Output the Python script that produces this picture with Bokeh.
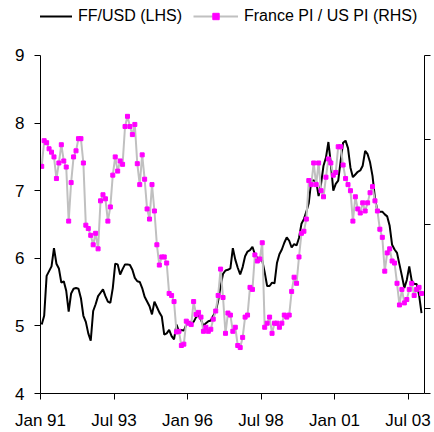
import pandas as pd
from bokeh.plotting import figure
from bokeh.models import Range1d, LinearAxis, FixedTicker, Legend, LegendItem, ColumnDataSource
from bokeh.embed import file_html
from bokeh.resources import INLINE

# ---- data (monthly, Jan 1991 - Dec 2003) ----
start_month = "1991-01"

ff_usd = [
    5.02, 5.15, 5.74, 5.81, 5.88, 6.15, 5.92, 5.85, 5.64, 5.66,
    5.52, 5.21, 5.48, 5.55, 5.56, 5.55, 5.41, 5.15, 5.06, 4.89,
    4.78, 5.22, 5.32, 5.44, 5.49, 5.54, 5.44, 5.36, 5.34, 5.56,
    5.92, 5.91, 5.76, 5.84, 5.91, 5.91, 5.90, 5.83, 5.71, 5.66,
    5.65, 5.56, 5.43, 5.36, 5.29, 5.17, 5.36, 5.28, 5.20, 5.14,
    4.87, 4.89, 4.94, 4.85, 4.80, 5.02, 4.92, 4.94, 4.93, 5.02,
    5.06, 5.03, 5.06, 5.13, 5.16, 5.09, 5.00, 5.04, 5.07, 5.08,
    5.15, 5.21, 5.37, 5.59, 5.77, 5.82, 5.83, 5.85, 6.15, 5.98,
    5.86, 5.76, 5.87, 6.03, 6.10, 6.12, 6.17, 6.06, 6.00, 5.97,
    5.97, 5.79, 5.59, 5.59, 5.64, 5.63, 5.93, 6.06, 6.13, 6.23,
    6.31, 6.26, 6.16, 6.21, 6.19, 6.30, 6.51, 6.58, 6.69, 6.82,
    7.15, 7.15, 7.14, 6.92, 7.10, 7.37, 7.49,
    7.72, 7.40, 7.00, 7.10, 7.15, 7.44, 7.71, 7.74, 7.63, 7.34,
    7.20, 7.24, 7.28, 7.30, 7.37, 7.59, 7.54, 7.42, 7.22, 6.89,
    6.70, 6.69, 6.69, 6.65, 6.62, 6.48, 6.20, 6.13, 6.08, 5.91,
    5.74, 5.56, 5.68, 5.88, 5.67, 5.62, 5.62, 5.46, 5.19,
]

france_us_pi = [
    7.36, 7.74, 7.71, 7.62, 7.57, 7.50, 7.18, 7.41, 7.68, 7.44,
    7.35, 6.55, 7.12, 7.50, 7.59, 7.77, 7.77, 7.41, 6.49, 6.44,
    6.34, 6.20, 6.37, 6.14, 6.85, 6.94, 6.88, 6.55, 6.76, 7.23,
    7.50, 7.29, 7.44, 7.39, 7.95, 8.10, 7.95, 7.83, 7.98, 7.40,
    7.09, 7.53, 7.17, 6.73, 6.58, 7.09, 6.70, 6.20, 5.90, 6.02,
    6.02, 5.93, 5.48, 5.45, 5.36, 4.91, 4.92, 4.71, 4.73, 5.07,
    5.04, 5.02, 5.36, 5.17, 5.20, 5.13, 4.92, 4.98, 4.92, 4.95,
    5.10, 5.22, 5.45, 5.84, 5.42, 4.89, 5.19, 5.16, 4.92,
    4.98, 4.71, 4.68, 4.83, 5.13, 5.16, 5.57, 5.54, 6.05, 5.96,
    5.99, 6.23, 4.98, 5.04, 5.13, 4.89, 5.04, 5.04, 4.98, 5.04,
    5.16, 5.13, 5.16, 5.51, 5.72, 5.63, 6.02, 6.37, 6.40, 6.58,
    7.15, 7.09, 7.41, 7.09, 7.41, 7.00, 6.91, 7.20, 7.47, 7.41,
    7.23, 7.27, 7.65, 7.65, 7.38, 7.18, 7.09, 7.00, 6.55, 6.91,
    6.73, 6.67, 6.82, 6.70, 6.82, 6.97, 7.06, 6.85, 6.70, 6.43,
    6.31, 5.81, 6.08, 6.14, 5.96, 5.93, 5.63, 5.31, 5.54, 5.34,
    5.39, 5.54, 5.63, 5.45, 5.54, 5.57, 5.48,
]

x_tick_months = ["1991-01", "1993-07", "1996-01", "1998-07", "2001-01", "2003-07"]
x_tick_labels = ["Jan 91", "Jul 93", "Jan 96", "Jul 98", "Jan 01", "Jul 03"]
left_ticks = [4, 5, 6, 7, 8, 9]
right_ticks = [4, 5.25, 6.5, 7.75, 9]

series_names = ["FF/USD (LHS)", "France PI / US PI (RHS)"]

# ---- build ----
n = min(len(ff_usd), len(france_us_pi))
dates = pd.date_range(start_month, periods=n, freq="MS")
xs = list(dates.year + (dates.month - 0.5) / 12.0)

tick_dates = pd.to_datetime(x_tick_months)
tick_x = [float(d.year + (d.month - 1) / 12.0) for d in tick_dates]

src = ColumnDataSource(dict(x=xs, ff=ff_usd[:n], pi=france_us_pi[:n]))

FONT = "Liberation Sans"
AXIS_FS = "17px"
LEG_FS = "16px"

p = figure(width=434, height=432, output_backend="svg", toolbar_location=None,
           x_range=Range1d(1991.0, 2004.06), y_range=Range1d(4, 9.8136),
           min_border_left=40, min_border_right=10, min_border_top=0, min_border_bottom=39)
p.extra_y_ranges = {"rhs": Range1d(4, 9.8136)}
p.outline_line_color = None
p.xgrid.visible = False
p.ygrid.visible = False
p.background_fill_color = "white"
p.border_fill_color = "white"

r_black = p.line("x", "ff", source=src, line_color="black", line_width=2)
r_grey = p.line("x", "pi", source=src, line_color="#C0C0C0", line_width=2, y_range_name="rhs")
r_pink = p.scatter("x", "pi", source=src, marker="square", size=4, fill_color="#FF00FF",
                   line_color="#FF00FF", y_range_name="rhs")

# left axis
ya = p.yaxis[0]
ya.ticker = FixedTicker(ticks=left_ticks)
ya.bounds = (4, 9)
ya.axis_line_color = "black"
ya.major_tick_line_color = "black"
ya.major_tick_out = 6
ya.major_tick_in = 0
ya.minor_tick_line_color = None
ya.major_label_standoff = 10
ya.major_label_text_font = FONT
ya.major_label_text_font_size = AXIS_FS
ya.major_label_text_color = "black"

# bottom axis
xa = p.xaxis[0]
xa.ticker = FixedTicker(ticks=tick_x)
xa.major_label_overrides = {tx: lab for tx, lab in zip(tick_x, x_tick_labels)}
xa.axis_line_color = "black"
xa.major_tick_line_color = "black"
xa.major_tick_out = 6
xa.major_tick_in = 0
xa.minor_tick_line_color = None
xa.major_label_standoff = 11
xa.major_label_text_font = FONT
xa.major_label_text_font_size = AXIS_FS
xa.major_label_text_color = "black"

# right axis (its labels fall outside the picture in the reference)
ra = LinearAxis(y_range_name="rhs", ticker=FixedTicker(ticks=right_ticks), bounds=(4, 9))
ra.axis_line_color = "black"
ra.major_tick_line_color = "black"
ra.major_tick_out = 6
ra.major_tick_in = 0
ra.minor_tick_line_color = None
ra.major_label_standoff = 0
ra.major_label_text_font_size = "1px"
ra.major_label_text_color = None
p.add_layout(ra, "right")

legend = Legend(items=[LegendItem(label=series_names[0], renderers=[r_black]),
                       LegendItem(label=series_names[1], renderers=[r_grey, r_pink])],
                orientation="horizontal", location=(-13, 368), padding=0, margin=0,
                spacing=11, glyph_width=45, glyph_height=16, label_height=16,
                label_standoff=6, label_text_font=FONT, label_text_font_size=LEG_FS,
                label_text_color="black",
                background_fill_alpha=0, border_line_alpha=0)
p.add_layout(legend)

open("out.html", "w").write(file_html(p, INLINE))
